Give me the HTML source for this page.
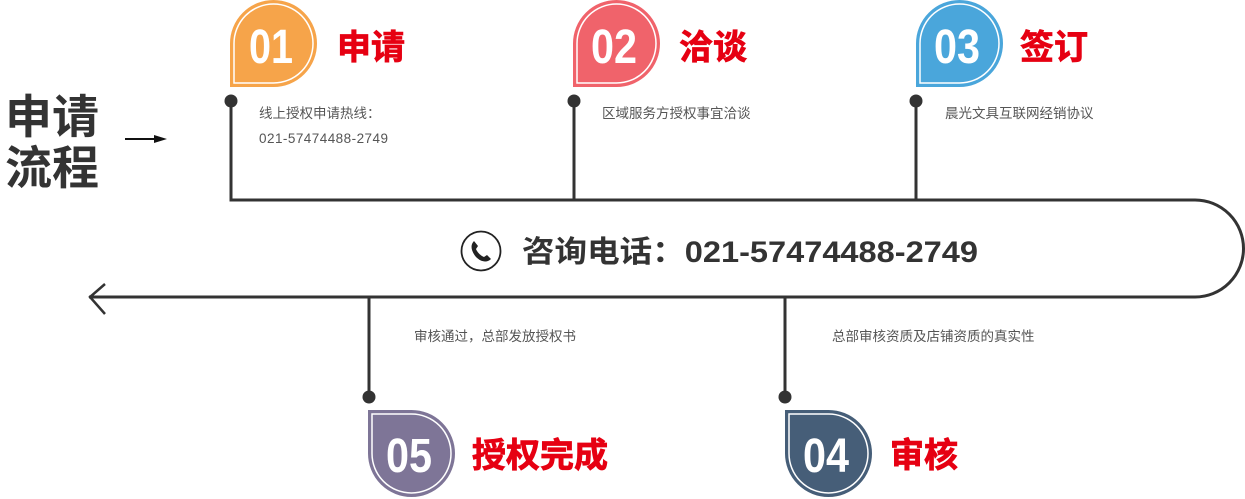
<!DOCTYPE html>
<html><head><meta charset="utf-8"><style>
html,body{margin:0;padding:0;background:#fff;}
svg{display:block;}
text{font-family:"Liberation Sans","Noto Sans CJK SC",sans-serif;}
</style></head><body>
<svg width="1245" height="499" viewBox="0 0 1245 499" xmlns="http://www.w3.org/2000/svg">
<path d="M231,100 V200 H1195 A48.5,48.5 0 0 1 1195,297 H89" fill="none" stroke="#333" stroke-width="3"/>
<path d="M105,284 L90,297 L105,314" fill="none" stroke="#333" stroke-width="2.5"/>
<line x1="574" y1="100" x2="574" y2="200" stroke="#333" stroke-width="3"/>
<line x1="916" y1="100" x2="916" y2="200" stroke="#333" stroke-width="3"/>
<line x1="369" y1="297" x2="369" y2="397" stroke="#333" stroke-width="3"/>
<line x1="785" y1="297" x2="785" y2="397" stroke="#333" stroke-width="3"/>
<g fill="#333">
<circle cx="231" cy="101" r="6.5"/><circle cx="574" cy="101" r="6.5"/><circle cx="916" cy="101" r="6.5"/>
<circle cx="369" cy="397" r="6.5"/><circle cx="785" cy="397" r="6.5"/>
</g>
<text x="5" y="133" font-size="46" font-weight="bold" fill="#333" textLength="94" lengthAdjust="spacingAndGlyphs">申请</text>
<text x="5" y="184" font-size="46" font-weight="bold" fill="#333" textLength="94" lengthAdjust="spacingAndGlyphs">流程</text>
<line x1="125" y1="139" x2="160" y2="139" stroke="#111" stroke-width="2"/>
<path d="M154,135 L167,139 L154,143 Z" fill="#111"/>
<g transform="translate(231,1)">
<path d="M0,85 L0,42.5 A42.5,42.5 0 1 1 42.5,85 Z" fill="#f6a44a" stroke="#f6a44a" stroke-width="2"/>
<path d="M3,82 L3,42.5 A39.5,39.5 0 1 1 42.5,82 Z" fill="none" stroke="#fff" stroke-width="1.5"/>
<text x="40" y="62" font-size="48" font-weight="bold" fill="#fff" text-anchor="middle" textLength="44" lengthAdjust="spacingAndGlyphs">01</text>
</g>
<g transform="translate(574,1)">
<path d="M0,85 L0,42.5 A42.5,42.5 0 1 1 42.5,85 Z" fill="#f0636b" stroke="#f0636b" stroke-width="2"/>
<path d="M3,82 L3,42.5 A39.5,39.5 0 1 1 42.5,82 Z" fill="none" stroke="#fff" stroke-width="1.5"/>
<text x="40" y="62" font-size="48" font-weight="bold" fill="#fff" text-anchor="middle" textLength="46" lengthAdjust="spacingAndGlyphs">02</text>
</g>
<g transform="translate(917,1)">
<path d="M0,85 L0,42.5 A42.5,42.5 0 1 1 42.5,85 Z" fill="#4aa6db" stroke="#4aa6db" stroke-width="2"/>
<path d="M3,82 L3,42.5 A39.5,39.5 0 1 1 42.5,82 Z" fill="none" stroke="#fff" stroke-width="1.5"/>
<text x="40" y="62" font-size="48" font-weight="bold" fill="#fff" text-anchor="middle" textLength="46" lengthAdjust="spacingAndGlyphs">03</text>
</g>
<g transform="translate(369,411)">
<path d="M0,0 L42.5,0 A42.5,42.5 0 1 1 0,42.5 Z" fill="#7e7597" stroke="#7e7597" stroke-width="2"/>
<path d="M3,3 L42.5,3 A39.5,39.5 0 1 1 3,42.5 Z" fill="none" stroke="#fff" stroke-width="1.5"/>
<text x="40" y="61" font-size="48" font-weight="bold" fill="#fff" text-anchor="middle" textLength="46" lengthAdjust="spacingAndGlyphs">05</text>
</g>
<g transform="translate(786,411)">
<path d="M0,0 L42.5,0 A42.5,42.5 0 1 1 0,42.5 Z" fill="#465e78" stroke="#465e78" stroke-width="2"/>
<path d="M3,3 L42.5,3 A39.5,39.5 0 1 1 3,42.5 Z" fill="none" stroke="#fff" stroke-width="1.5"/>
<text x="40" y="61" font-size="48" font-weight="bold" fill="#fff" text-anchor="middle" textLength="46" lengthAdjust="spacingAndGlyphs">04</text>
</g>
<g font-size="34" font-weight="bold" fill="#e60012" stroke="#e60012" stroke-width="0.8">
<text x="337" y="59">申请</text>
<text x="679" y="59">洽谈</text>
<text x="1020" y="59">签订</text>
<text x="472" y="467">授权完成</text>
<text x="890" y="467">审核</text>
</g>
<g font-size="13.5" fill="#555">
<text x="259" y="118">线上授权申请热线：</text>
<text x="259" y="143" textLength="129" lengthAdjust="spacing">021-57474488-2749</text>
<text x="602" y="118">区域服务方授权事宜洽谈</text>
<text x="945" y="118">晨光文具互联网经销协议</text>
<text x="414" y="341">审核通过，总部发放授权书</text>
<text x="832" y="341">总部审核资质及店铺资质的真实性</text>
</g>
<circle cx="481" cy="251" r="19.5" fill="none" stroke="#222" stroke-width="1.8"/>
<path d="M474,241 C470,245 471,251 476,257 C481,262 487,263 491,259 L487,255 L484,257 C481,256 477,252 476,249 L478,246 Z" fill="#222"/>
<text x="522" y="262" font-size="30" font-weight="bold" fill="#333" textLength="456" lengthAdjust="spacingAndGlyphs">咨询电话：021-57474488-2749</text>
</svg>
</body></html>
